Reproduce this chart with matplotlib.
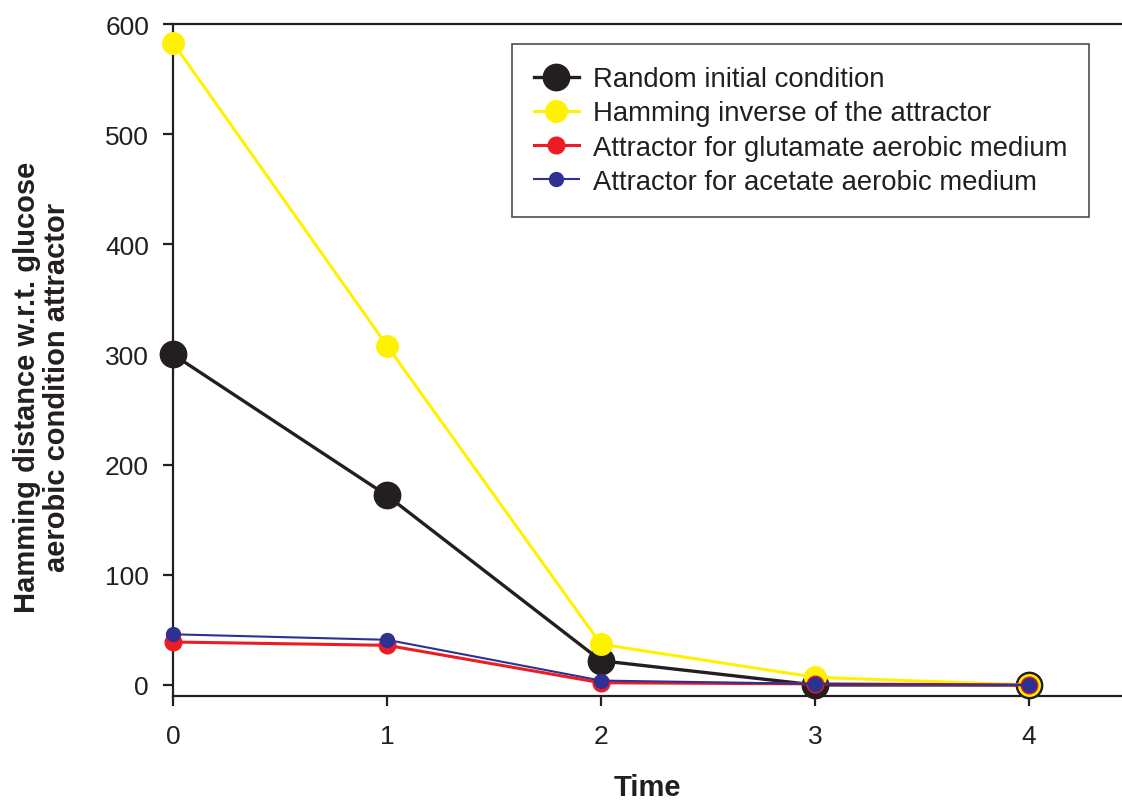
import matplotlib.pyplot as plt

plt.rcParams['font.family'] = ['Liberation Sans', 'DejaVu Sans']

# values
time = [0, 1, 2, 3, 4]
random_init = [300, 172, 22, 0, 0]
hamming_inverse = [583, 308, 37, 7, 0]
glutamate = [39, 36, 2, 1, 0]
acetate = [46, 41, 4, 1, 0]

txt = '#231f20'

fig = plt.figure(figsize=(11.22, 8.04), dpi=100)
ax = fig.add_axes([0.1542, 0.1331, 0.8458, 0.8358])

ax.plot(time, random_init, color='#231f20', lw=2.4, marker='o', ms=19,
        label='Random initial condition', clip_on=False, zorder=3)
ax.plot(time, hamming_inverse, color='#fff200', lw=2.2, marker='o', ms=15.5,
        label='Hamming inverse of the attractor', clip_on=False, zorder=4)
ax.plot(time, glutamate, color='#ed1c24', lw=2.2, marker='o', ms=12,
        label='Attractor for glutamate aerobic medium', clip_on=False, zorder=5)
ax.plot(time, acetate, color='#2e3192', lw=1.5, marker='o', ms=10,
        label='Attractor for acetate aerobic medium', clip_on=False, zorder=6)

ax.set_xlim(0, 4.435)
ax.set_ylim(-10, 600)
ax.set_xticks(time)
ax.set_yticks([0, 100, 200, 300, 400, 500, 600])
ax.spines['right'].set_visible(False)
for s in ['left', 'bottom', 'top']:
    ax.spines[s].set_linewidth(1.6)
    ax.spines[s].set_color(txt)
ax.tick_params(axis='both', direction='out', length=7.2, width=1.6,
               colors=txt, labelsize=19, labelcolor=txt)
ax.tick_params(axis='x', pad=13)
ax.tick_params(axis='y', pad=10)

ax.set_xlabel('Time', fontsize=21, fontweight='bold', color=txt)
ax.xaxis.set_label_coords(0.5, -0.115)
ax.set_ylabel('Hamming distance w.r.t. glucose\naerobic condition attractor',
              fontsize=21, fontweight='bold', color=txt, linespacing=1.05)
ax.yaxis.set_label_coords(-0.108, 0.461)

leg = ax.legend(loc='upper left', bbox_to_anchor=(0.357, 0.97), fontsize=19.8,
                frameon=True, fancybox=False, edgecolor=txt, handlelength=1.65,
                handletextpad=0.5, borderpad=0.8, labelspacing=0.3,
                borderaxespad=0, markerscale=1.0)
leg.get_frame().set_linewidth(1.2)
for t in leg.get_texts():
    t.set_color(txt)

fig.savefig('out.png', dpi=100)
